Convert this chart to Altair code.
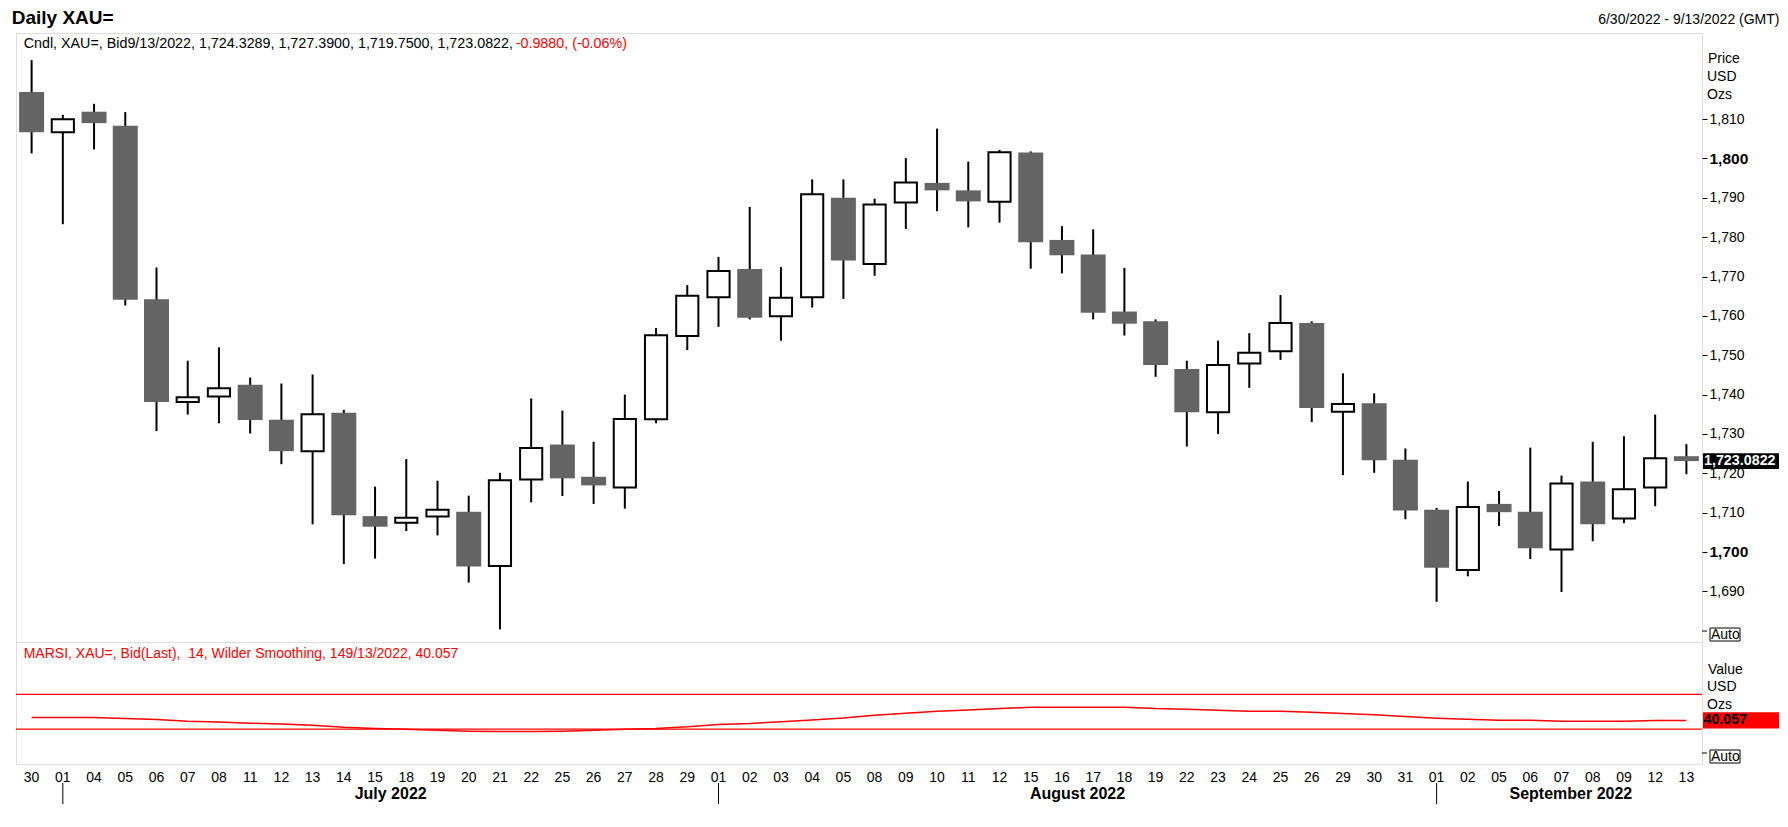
import altair as alt
import pandas as pd

# ---------------- data ----------------
dates = [
    "2022-06-30", "2022-07-01", "2022-07-04", "2022-07-05", "2022-07-06", "2022-07-07", "2022-07-08",
    "2022-07-11", "2022-07-12", "2022-07-13", "2022-07-14", "2022-07-15", "2022-07-18", "2022-07-19",
    "2022-07-20", "2022-07-21", "2022-07-22", "2022-07-25", "2022-07-26", "2022-07-27", "2022-07-28",
    "2022-07-29", "2022-08-01", "2022-08-02", "2022-08-03", "2022-08-04", "2022-08-05", "2022-08-08",
    "2022-08-09", "2022-08-10", "2022-08-11", "2022-08-12", "2022-08-15", "2022-08-16", "2022-08-17",
    "2022-08-18", "2022-08-19", "2022-08-22", "2022-08-23", "2022-08-24", "2022-08-25", "2022-08-26",
    "2022-08-29", "2022-08-30", "2022-08-31", "2022-09-01", "2022-09-02", "2022-09-05", "2022-09-06",
    "2022-09-07", "2022-09-08", "2022-09-09", "2022-09-12", "2022-09-13",
]
opens = [1816.9, 1806.7, 1811.9, 1808.3, 1764.2, 1738.1, 1739.5, 1742.5, 1733.6, 1725.6, 1735.4,
         1709.1, 1707.4, 1709.0, 1710.2, 1696.4, 1718.4, 1727.3, 1719.1, 1716.4, 1733.7, 1754.9,
         1764.7, 1771.9, 1759.9, 1764.7, 1790.0, 1773.2, 1788.8, 1793.8, 1791.9, 1789.0, 1801.5,
         1779.3, 1775.6, 1761.1, 1758.6, 1746.5, 1735.5, 1747.9, 1751.0, 1758.2, 1735.6, 1737.8,
         1723.4, 1710.7, 1695.4, 1712.2, 1710.2, 1700.6, 1717.9, 1708.5, 1716.4, 1724.3289]
highs = [1825.0, 1811.1, 1813.9, 1811.8, 1772.3, 1748.6, 1752.0, 1744.3, 1742.8, 1745.1, 1736.1,
         1716.6, 1723.6, 1718.1, 1714.3, 1720.1, 1739.0, 1735.9, 1728.0, 1740.0, 1756.9, 1767.8,
         1775.0, 1787.7, 1772.4, 1794.7, 1794.7, 1789.8, 1800.1, 1807.6, 1799.2, 1802.2, 1801.8,
         1782.8, 1782.0, 1772.2, 1759.1, 1748.6, 1753.7, 1755.6, 1765.3, 1758.6, 1745.4, 1740.3,
         1726.3, 1711.2, 1717.9, 1715.5, 1726.5, 1719.4, 1728.0, 1729.4, 1734.9, 1727.39]
lows = [1801.3, 1783.3, 1802.3, 1762.6, 1730.7, 1734.9, 1732.7, 1730.1, 1722.3, 1707.0, 1696.9,
        1698.3, 1705.3, 1704.2, 1692.2, 1680.3, 1712.6, 1714.2, 1712.2, 1711.0, 1732.7, 1751.3,
        1757.2, 1759.1, 1753.7, 1762.1, 1764.3, 1770.2, 1782.1, 1786.6, 1782.5, 1783.7, 1772.0,
        1770.8, 1759.1, 1755.0, 1744.5, 1726.8, 1730.0, 1741.7, 1748.8, 1733.0, 1719.5, 1720.1,
        1708.3, 1687.3, 1693.8, 1706.6, 1698.2, 1689.8, 1702.7, 1707.3, 1711.6, 1719.75]
closes = [1806.7, 1810.0, 1809.0, 1764.1, 1738.1, 1739.3, 1741.6, 1733.5, 1725.6, 1735.0, 1709.3,
          1706.4, 1708.7, 1710.7, 1696.3, 1718.2, 1726.4, 1718.7, 1716.9, 1733.8, 1755.1, 1765.1,
          1771.4, 1759.5, 1764.6, 1790.9, 1774.1, 1788.3, 1793.9, 1791.9, 1789.1, 1801.6, 1778.7,
          1775.4, 1760.8, 1758.0, 1747.5, 1735.5, 1747.5, 1750.6, 1758.2, 1736.6, 1737.6, 1723.3,
          1710.5, 1696.0, 1711.4, 1710.1, 1700.9, 1717.4, 1707.0, 1715.9, 1723.8, 1723.0822]
rsi = [43.5, 43.5, 43.5, 42.3, 41.2, 39.2, 38.1, 36.9, 35.8, 34.6, 32.3, 30.8, 30.0, 28.8,
       27.7, 27.3, 27.3, 27.7, 28.8, 30.0, 30.8, 32.7, 35.4, 36.5, 38.5, 40.4, 42.7, 45.9,
       48.3, 50.6, 52.1, 53.6, 55.1, 55.1, 55.1, 55.1, 53.6, 52.9, 51.7, 50.6, 50.6, 49.4,
       47.9, 46.4, 44.5, 42.6, 41.4, 40.3, 40.3, 39.1, 39.1, 39.1, 40.06, 40.057]
price_ticks = [1690, 1700, 1710, 1720, 1730, 1740, 1750, 1760, 1770, 1780, 1790, 1800, 1810]
rsi_levels = [70, 30]
month_labels = ["July 2022", "August 2022", "September 2022"]
month_anchor = ["2022-07-15", "2022-08-16", "2022-09-07"]
month_band = [1.0, 1.0, 0.8]
month_starts = ["2022-07-01", "2022-08-01", "2022-09-01"]
last_price = 1723.0822
last_rsi = 40.057
title_text = "Daily XAU="
range_text = "6/30/2022 - 9/13/2022 (GMT)"
cndl_text = "Cndl, XAU=, Bid9/13/2022, 1,724.3289, 1,727.3900, 1,719.7500, 1,723.0822, "
cndl_chg = "-0.9880, (-0.06%)"
rsi_text = "MARSI, XAU=, Bid(Last),\u00a0 14, Wilder Smoothing, 149/13/2022, 40.057"

# ---------------- layout ----------------
W, H1, H2 = 1686, 609, 122
F = "Liberation Sans"
GRAY = "#8c8c8c"
RED = "#ff0000"
DARK = "#646464"

df = pd.DataFrame({"d": dates, "open": opens, "high": highs, "low": lows,
                   "close": closes, "rsi": rsi})
one = pd.DataFrame({"k": [0]})

xs = alt.Scale(type="band", domain=dates, paddingInner=0, paddingOuter=0)
ps = alt.Scale(domain=[1677.1, 1831.9], nice=False, zero=False)
rs = alt.Scale(domain=[-10, 130], nice=False, zero=False)

bold_test = "datum.value % 100 === 0"
yaxis = alt.Axis(orient="right", values=price_ticks, format=",.0f", title=None, grid=False,
                 domain=False, tickSize=5, tickColor="black", tickWidth=1, labelPadding=2,
                 labelFont=F, labelColor="black",
                 labelFontSize={"condition": {"test": bold_test, "value": 15.5}, "value": 14},
                 labelFontWeight={"condition": {"test": bold_test, "value": "bold"}, "value": "normal"})
xm = alt.X("d:N", scale=xs, axis=None, title=None)

base = alt.Chart(df)
wick = base.mark_rule(color="black", strokeWidth=2).encode(
    x=xm, y=alt.Y("low:Q", scale=ps, axis=yaxis), y2="high:Q")
bear = base.transform_filter("datum.close < datum.open").mark_bar(
    width=alt.RelativeBandSize(0.8), fill=DARK).encode(
    x=xm, y=alt.Y("open:Q", scale=ps, axis=yaxis), y2="close:Q")
bull = base.transform_filter("datum.close >= datum.open").mark_bar(
    width=alt.RelativeBandSize(0.71), fill="white", stroke="black", strokeWidth=2).encode(
    x=xm, y=alt.Y("open:Q", scale=ps, axis=yaxis), y2="close:Q")

lp = pd.DataFrame({"p": [last_price]})
pbox = alt.Chart(lp).transform_calculate(lo="datum.p - 2", hi="datum.p + 2").mark_rect(
    fill="black").encode(x=alt.value(W + 1), x2=alt.value(W + 77),
                         y=alt.Y("lo:Q", scale=ps, axis=yaxis), y2="hi:Q")
ptxt = alt.Chart(lp).mark_text(align="left", baseline="middle", color="white", font=F,
                               fontSize=14.3, fontWeight="bold").encode(
    x=alt.value(W + 2), y=alt.Y("p:Q", scale=ps, axis=yaxis),
    text=alt.Text("p:Q", format=",.4f"))


def label(txt, x, y, size=14, color="black", weight="normal", align="left"):
    return alt.Chart(one).mark_text(align=align, baseline="alphabetic", font=F, fontSize=size,
                                    color=color, fontWeight=weight).encode(
        x=alt.value(x), y=alt.value(y), text=alt.value(txt))


def auto_box(h):
    box = alt.Chart(one).mark_rect(fill="white", stroke="black", strokeWidth=1).encode(
        x=alt.value(W + 8), x2=alt.value(W + 38), y=alt.value(h - 14), y2=alt.value(h - 1))
    tick = alt.Chart(one).mark_rule(color="black", strokeWidth=1).encode(
        x=alt.value(W), x2=alt.value(W + 5), y=alt.value(h - 11), y2=alt.value(h - 11))
    txt = label("Auto", W + 9, h - 3)
    return [tick, box, txt]


main = alt.layer(
    wick, bear, bull, pbox, ptxt,
    label(title_text, -4.3, -9.5, size=19, weight="bold"),
    label(range_text, 1763.5, -9, align="right"),
    label(cndl_text, 7.7, 15, size=14.3),
    label(cndl_chg, 499.7, 15, size=14.3, color=RED),
    label("Price", W + 6, 30),
    label("USD", W + 5, 48.4),
    label("Ozs", W + 5, 66),
    *auto_box(H1),
).properties(width=W, height=H1)

# ---------------- RSI panel ----------------
xaxis = alt.Axis(orient="bottom", title=None, labelExpr="substring(datum.value, 8, 10)",
                 labelAngle=0, labelFont=F, labelFontSize=14, labelColor="black",
                 labelBaseline="alphabetic", labelPadding=17.5, ticks=False, tickSize=0,
                 domain=False, grid=False, labelOverlap=False)
xr = alt.X("d:N", scale=xs, axis=xaxis)

lev = alt.Chart(pd.DataFrame({"v": rsi_levels})).mark_rule(color=RED, strokeWidth=1.2).encode(
    y=alt.Y("v:Q", scale=rs, axis=None))
rline = base.mark_line(color=RED, strokeWidth=1.5).encode(
    x=xr, y=alt.Y("rsi:Q", scale=rs, axis=None))

lr = pd.DataFrame({"r": [last_rsi]})
rbox = alt.Chart(lr).transform_calculate(lo="datum.r - 9.2", hi="datum.r + 9.2").mark_rect(
    fill=RED).encode(x=alt.value(W + 1), x2=alt.value(W + 77),
                     y=alt.Y("lo:Q", scale=rs, axis=None), y2="hi:Q")
rtxt = alt.Chart(lr).mark_text(align="left", baseline="middle", color="black", font=F,
                               fontSize=14.3, fontWeight="bold").encode(
    x=alt.value(W + 1.5), y=alt.Y("r:Q", scale=rs, axis=None),
    text=alt.Text("r:Q", format=".3f"))

month_layers = []
for i in range(len(month_labels)):
    mdf = pd.DataFrame({"d": [month_anchor[i]], "m": [month_labels[i]]})
    month_layers.append(
        alt.Chart(mdf).mark_text(align="center", baseline="alphabetic", font=F, fontSize=16,
                                 fontWeight="bold", color="black").encode(
            x=alt.X("d:N", scale=xs, axis=xaxis, bandPosition=month_band[i]),
            y=alt.value(157), text="m:N"))
sdf = pd.DataFrame({"d": month_starts})
msep = alt.Chart(sdf).mark_rule(color="black", strokeWidth=1).encode(
    x=xr, y=alt.value(141), y2=alt.value(162))

lower = alt.layer(
    lev, rline, rbox, rtxt, *month_layers, msep,
    label(rsi_text, 7.7, 15.5, color=RED),
    label("Value", W + 6, 32),
    label("USD", W + 5, 49.4),
    label("Ozs", W + 5, 66.7),
    *auto_box(H2),
).properties(width=W, height=H2)

chart = alt.vconcat(main, lower, spacing=0, bounds="flush").properties(
    padding={"left": 3, "top": 0, "right": 0, "bottom": 0}
).configure_view(stroke=GRAY, strokeWidth=1).configure(background="white")

chart.save("out.html", embed_options={"renderer": "svg", "actions": False})
